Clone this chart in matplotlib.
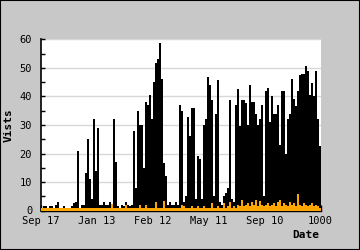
import numpy as np
import matplotlib.pyplot as plt
from matplotlib.ticker import MultipleLocator

# visits per bin (black) and the small orange series drawn in front
visits = [0, 1.5, 1.5, 0, 1.5, 1.5, 0, 2, 3, 1,
          0, 1.5, 0, 0, 1, 1.5, 2.5, 3, 20.8, 1,
          2, 2, 13, 25, 11, 4, 32, 14, 29, 2,
          2, 3, 2, 2, 3, 2, 32, 17, 1.5, 1,
          2, 1.5, 3, 2, 1.5, 2, 28, 8, 35, 30,
          30, 15, 38, 37, 40.7, 32, 45, 51.8, 53, 58.8,
          46, 16.7, 12, 2, 3, 2, 2, 3, 2, 37,
          35, 3, 5, 32.7, 26, 36, 36, 4, 19, 18,
          4, 30, 32, 46.8, 44, 38.7, 5, 33.7, 45.7, 3,
          2, 5, 6, 8, 38.7, 4, 3, 37, 42.8, 29.6,
          38.7, 38.7, 37.8, 30, 43.9, 38, 38, 33.7, 30, 32,
          37, 5, 42, 43, 31, 40, 34, 33.7, 37, 23,
          42, 42, 20, 32, 34, 46, 39, 36.6, 42, 47.7,
          48, 48, 50.6, 49, 40.7, 44.8, 40, 48.9, 32, 22.8]

other = [1, 1, 1, 1, 1, 1, 1, 1, 1, 1,
         1, 1, 1, 1, 1, 1, 1, 1, 1, 1,
         1, 1, 1, 1, 1, 1, 1, 1, 1, 1,
         1, 1, 1, 1, 1, 2.3, 1, 1, 1, 1,
         1, 1, 2, 1, 1, 1, 1, 1, 1, 2,
         1, 1, 2, 1, 1, 1, 1, 2.9, 1, 1,
         1, 3.3, 1, 1, 1, 1, 1, 1, 1, 1,
         1.9, 1.5, 1, 1, 1, 1.5, 1, 1, 1.6, 1,
         1, 1.5, 1, 1, 1, 2.5, 1, 1, 1.5, 1,
         1, 2.5, 1, 1.5, 3, 1, 1.5, 1, 2, 1.5,
         3.6, 1.5, 2, 2.5, 1.5, 3, 2, 3.6, 1.5, 3.2,
         2, 1.5, 2, 2.5, 1.5, 2, 2.6, 1.5, 3, 3.6,
         1.5, 2.5, 2, 1.5, 3, 2, 2.5, 1.5, 5.9, 2,
         1.5, 2.5, 2, 1.5, 2, 2.5, 1.5, 1.9, 1.5, 1]

tick_labels = ["Sep 17", "Jan 13", "Feb 12", "May 11", "Sep 10", "1000"]

n = len(visits)
x = np.arange(n) + 0.5

fig = plt.figure(figsize=(3.6, 2.5), dpi=100, facecolor="#c8c8c8")
fig.patches.append(plt.Rectangle((0, 0), 1, 1, transform=fig.transFigure,
                                 fill=False, edgecolor="black", lw=1.5))
ax = fig.add_axes([0.1125, 0.158, 0.778, 0.684])
ax.set_facecolor("white")

ax.bar(x, visits, width=1.0, color="black", edgecolor="none", zorder=2)
ax.bar(x, other, width=1.0, color="#ffa500", edgecolor="none", zorder=3)

ax.set_xlim(0, n)
ax.set_ylim(0, 60)
ax.set_axisbelow(True)
ax.yaxis.grid(True, color="#d8d8d8", lw=1)

ax.yaxis.set_major_locator(MultipleLocator(10))
ax.yaxis.set_minor_locator(MultipleLocator(5))
ax.set_xticks(np.linspace(0, n, len(tick_labels)))
ax.set_xticklabels(tick_labels)

mono = "DejaVu Sans Mono"
for lab in ax.get_xticklabels() + ax.get_yticklabels():
    lab.set_family(mono)
    lab.set_fontsize(7.5)
ax.tick_params(axis="y", which="both", direction="in", length=3, width=1, pad=6)
ax.tick_params(axis="x", direction="in", length=4, width=1, pad=4)

for s in ["top", "right"]:
    ax.spines[s].set_visible(False)
ax.spines["left"].set_linewidth(1.2)
ax.spines["bottom"].set_linewidth(1)

ax.set_ylabel("Vists", family=mono, fontsize=8, fontweight="bold", labelpad=4)
fig.text(319 / 360, 10 / 250, "Date", family=mono, fontsize=8,
         fontweight="bold", ha="right", va="bottom")

fig.savefig("out.png", dpi=100, facecolor=fig.get_facecolor())
